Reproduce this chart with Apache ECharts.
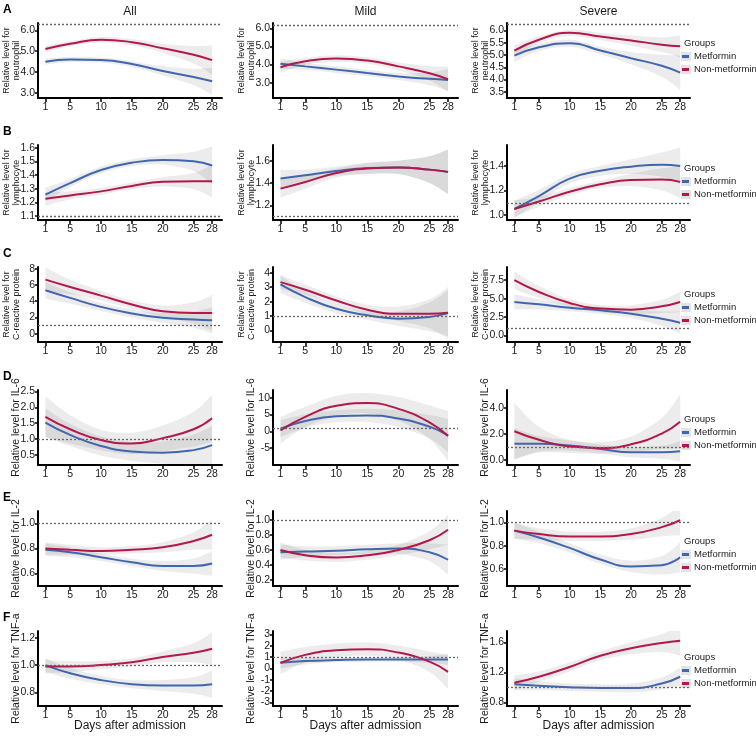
<!DOCTYPE html>
<html>
<head>
<meta charset="utf-8">
<title>Metformin groups</title>
<script src="https://cdn.jsdelivr.net/npm/echarts@6.0.0/dist/echarts.min.js"></script>
<style>
  html, body { margin: 0; padding: 0; background: #fff; }
  #main { width: 756px; height: 743px; }
</style>
</head>
<body>
<div id="main"></div>
<script>
// days after admission (x positions of the fitted curves) and x tick labels
const days = [1, 5, 10, 15, 20, 25, 28];
const xTicks = [1, 5, 10, 15, 20, 25, 28];
const columns = ['All', 'Mild', 'Severe'];
const rowLetters = ['A', 'B', 'C', 'D', 'E', 'F'];
const yNames = [
  'Relative level for\nneutrophil',
  'Relative level for\nlymphocyte',
  'Relative level for\nC-reactive protein',
  'Relative level for IL-6',
  'Relative level for IL-2',
  'Relative level for TNF-a'
];
// dotted reference level per panel
const refLines = [[6.3, 6.2, 6.25], [1.1, 1.1, 1.1], [1, 1, 1], [1, 1, 1], [1, 1, 1], [1, 1, 1]];

// neutrophil (All, Mild, Severe)
const neuMet = [[4.49, 4.6, 4.57, 4.38, 4.05, 3.76, 3.55], [4.05, 3.9, 3.72, 3.53, 3.34, 3.21, 3.15], [4.97, 5.31, 5.48, 5.18, 4.87, 4.56, 4.28]];
const neuNon = [[5.1, 5.35, 5.55, 5.43, 5.14, 4.83, 4.57], [3.85, 4.18, 4.33, 4.22, 3.9, 3.52, 3.19], [5.18, 5.62, 5.9, 5.75, 5.59, 5.42, 5.35]];
const neuMetCI = [[0.14, 0.12, 0.12, 0.14, 0.22, 0.4, 0.65], [0.3, 0.2, 0.18, 0.18, 0.2, 0.35, 0.6], [0.25, 0.15, 0.15, 0.15, 0.25, 0.45, 0.7]];
const neuNonCI = [[0.16, 0.12, 0.14, 0.15, 0.22, 0.42, 0.7], [0.3, 0.2, 0.18, 0.18, 0.22, 0.4, 0.7], [0.22, 0.14, 0.13, 0.15, 0.2, 0.3, 0.45]];
const neuTicks = [['3.0', '4.0', '5.0', '6.0'], ['3.0', '4.0', '5.0', '6.0'], ['3.5', '4.0', '4.5', '5.0', '5.5', '6.0']];
const neuRange = [[2.75, 6.35], [2.15, 6.3], [3.25, 6.3]];

// lymphocyte
const lymMet = [[1.256, 1.34, 1.437, 1.49, 1.51, 1.5, 1.47], [1.44, 1.47, 1.507, 1.534, 1.54, 1.52, 1.5], [1.05, 1.155, 1.296, 1.36, 1.394, 1.41, 1.4]];
const lymNon = [[1.225, 1.25, 1.28, 1.32, 1.35, 1.355, 1.355], [1.35, 1.41, 1.49, 1.53, 1.54, 1.52, 1.5], [1.05, 1.11, 1.19, 1.25, 1.286, 1.29, 1.27]];
const lymMetCI = [[0.05, 0.03, 0.025, 0.025, 0.035, 0.07, 0.14], [0.08, 0.05, 0.04, 0.05, 0.06, 0.12, 0.2], [0.07, 0.05, 0.04, 0.04, 0.06, 0.1, 0.15]];
const lymNonCI = [[0.05, 0.03, 0.025, 0.025, 0.035, 0.06, 0.12], [0.08, 0.06, 0.04, 0.05, 0.06, 0.12, 0.2], [0.07, 0.04, 0.03, 0.03, 0.05, 0.09, 0.13]];
const lymTicks = [['1.1', '1.2', '1.3', '1.4', '1.5', '1.6'], ['1.2', '1.4', '1.6'], ['1.0', '1.2', '1.4']];
const lymRange = [[1.07, 1.62], [1.07, 1.74], [0.96, 1.57]];

// C-reactive protein
const crpMet = [[5.35, 4.41, 3.31, 2.5, 1.96, 1.76, 1.67], [3.19, 2.31, 1.5, 1.05, 0.82, 0.94, 1.2], [4.55, 4.23, 3.77, 3.41, 2.95, 2.27, 1.73]];
const crpNon = [[6.65, 5.75, 4.69, 3.6, 2.78, 2.57, 2.57], [3.35, 2.82, 2.08, 1.44, 1.16, 1.16, 1.23], [7.5, 5.9, 4.41, 3.64, 3.5, 3.95, 4.55]];
const crpMetCI = [[1.0, 0.7, 0.5, 0.5, 0.6, 1.0, 1.6], [0.6, 0.4, 0.3, 0.3, 0.5, 1.0, 1.6], [1.0, 0.7, 0.5, 0.5, 0.6, 1.0, 1.5]];
const crpNonCI = [[1.5, 0.9, 0.6, 0.5, 0.7, 1.3, 2.2], [0.5, 0.35, 0.3, 0.35, 0.5, 1.0, 1.8], [1.2, 0.8, 0.5, 0.5, 0.6, 0.9, 1.4]];
const crpTicks = [['0', '2', '4', '6', '8'], ['0', '1', '2', '3', '4'], ['0.0', '2.5', '5.0', '7.5']];
const crpRange = [[-1, 8.2], [-0.8, 4.4], [-0.9, 9.3]];

// IL-6
const il6Met = [[1.52, 1.13, 0.78, 0.61, 0.57, 0.65, 0.81], [0.8, 3.1, 4.5, 4.75, 3.8, 1.4, -1.2], [1.24, 1.24, 1.1, 0.84, 0.58, 0.58, 0.66]];
const il6Non = [[1.7, 1.31, 0.97, 0.86, 1.03, 1.31, 1.66], [0.3, 4.3, 7.6, 8.4, 6.7, 2.7, -1.4], [2.21, 1.55, 1.03, 0.92, 1.2, 2.03, 2.95]];
const il6MetCI = [[0.45, 0.35, 0.3, 0.3, 0.35, 0.5, 0.6], [2.5, 2, 1.8, 2, 2.5, 3.5, 5], [1.2, 0.6, 0.4, 0.35, 0.4, 0.5, 0.8]];
const il6NonCI = [[0.65, 0.45, 0.32, 0.34, 0.4, 0.55, 0.75], [4, 3, 3, 3, 3.5, 5, 7.5], [2.2, 1.0, 0.5, 0.45, 0.6, 1.2, 2.1]];
const il6Ticks = [['0.5', '1.0', '1.5', '2.0', '2.5'], ['-5', '0', '5', '10'], ['0.0', '2.0', '4.0']];
const il6Range = [[0.18, 2.55], [-10, 12.3], [-0.4, 5.4]];

// IL-2
const il2Met = [[0.79, 0.77, 0.73, 0.69, 0.66, 0.66, 0.68], [0.57, 0.58, 0.59, 0.61, 0.62, 0.57, 0.47], [0.93, 0.87, 0.78, 0.68, 0.62, 0.63, 0.7]];
const il2Non = [[0.8, 0.79, 0.78, 0.79, 0.81, 0.86, 0.91], [0.6, 0.53, 0.5, 0.53, 0.6, 0.73, 0.87], [0.93, 0.9, 0.88, 0.88, 0.9, 0.96, 1.02]];
const il2MetCI = [[0.05, 0.04, 0.03, 0.03, 0.04, 0.06, 0.1], [0.1, 0.07, 0.06, 0.06, 0.07, 0.12, 0.2], [0.07, 0.05, 0.04, 0.04, 0.05, 0.08, 0.13]];
const il2NonCI = [[0.05, 0.04, 0.03, 0.03, 0.04, 0.07, 0.12], [0.1, 0.07, 0.06, 0.06, 0.07, 0.12, 0.2], [0.07, 0.05, 0.04, 0.04, 0.05, 0.08, 0.13]];
const il2Ticks = [['0.6', '0.8', '1.0'], ['0.2', '0.4', '0.6', '0.8', '1.0'], ['0.6', '0.8', '1.0']];
const il2Range = [[0.5, 1.1], [0.12, 1.12], [0.45, 1.1]];

// TNF-a
const tnfMet = [[1.0, 0.94, 0.89, 0.86, 0.85, 0.85, 0.86], [0.5, 0.65, 0.75, 0.8, 0.8, 0.8, 0.8], [1.04, 1.02, 1.0, 0.99, 0.99, 1.05, 1.14]];
const tnfNon = [[0.99, 0.99, 1.0, 1.02, 1.06, 1.09, 1.12], [0.5, 1.2, 1.6, 1.7, 1.4, 0.6, -0.3], [1.06, 1.14, 1.27, 1.42, 1.52, 1.59, 1.62]];
const tnfMetCI = [[0.05, 0.04, 0.03, 0.03, 0.04, 0.06, 0.1], [0.5, 0.3, 0.2, 0.2, 0.2, 0.3, 0.5], [0.08, 0.06, 0.05, 0.05, 0.06, 0.08, 0.12]];
const tnfNonCI = [[0.05, 0.04, 0.03, 0.03, 0.04, 0.07, 0.12], [1, 0.7, 0.6, 0.6, 0.6, 0.9, 1.5], [0.1, 0.07, 0.06, 0.06, 0.08, 0.12, 0.2]];
const tnfTicks = [['0.8', '1.0', '1.2'], ['-3', '-2', '-1', '0', '1', '2', '3'], ['0.8', '1.2', '1.6']];
const tnfRange = [[0.7, 1.25], [-3.3, 3.3], [0.75, 1.75]];

const rowMet = [neuMet, lymMet, crpMet, il6Met, il2Met, tnfMet];
const rowNon = [neuNon, lymNon, crpNon, il6Non, il2Non, tnfNon];
const rowMetCI = [neuMetCI, lymMetCI, crpMetCI, il6MetCI, il2MetCI, tnfMetCI];
const rowNonCI = [neuNonCI, lymNonCI, crpNonCI, il6NonCI, il2NonCI, tnfNonCI];
const rowTicks = [neuTicks, lymTicks, crpTicks, il6Ticks, il2Ticks, tnfTicks];
const rowRange = [neuRange, lymRange, crpRange, il6Range, il2Range, tnfRange];

const blue = '#4266ad';
const red = '#b3174b';
const font = 'Liberation Sans, Arial, sans-serif';

// layout
const gridLeft = [38, 273, 507];
const gridWidth = [184, 185, 183];
const gridTop = [23, 145, 267, 390, 511, 631];
const gridHeight = 75;
const legendTop = [36, 161, 287, 412, 534, 650];

// smooth curve through pixel points (catmull-rom as cubic beziers)
function curve(pts) {
  var s = '';
  for (var i = 0; i < pts.length - 1; i++) {
    var p0 = pts[i - 1] || pts[i], p1 = pts[i], p2 = pts[i + 1], p3 = pts[i + 2] || p2;
    var c1 = [p1[0] + (p2[0] - p0[0]) / 6, p1[1] + (p2[1] - p0[1]) / 6];
    var c2 = [p2[0] - (p3[0] - p1[0]) / 6, p2[1] - (p3[1] - p1[1]) / 6];
    s += ' C' + c1[0] + ' ' + c1[1] + ' ' + c2[0] + ' ' + c2[1] + ' ' + p2[0] + ' ' + p2[1];
  }
  return s;
}

function bandRenderer(vals, ci) {
  return function (params, api) {
    var up = days.map(function (d, i) { return api.coord([d, vals[i] + ci[i]]); });
    var dn = days.map(function (d, i) { return api.coord([d, vals[i] - ci[i]]); }).reverse();
    var path = 'M' + up[0][0] + ' ' + up[0][1] + curve(up) + ' L' + dn[0][0] + ' ' + dn[0][1] + curve(dn) + ' Z';
    return { type: 'path', shape: { pathData: path }, style: { fill: 'rgba(0,0,0,0.075)' } };
  };
}

var grids = [], xAxes = [], yAxes = [], series = [], legends = [], graphics = [];

for (var r = 0; r < 6; r++) {
  for (var c = 0; c < 3; c++) {
    var idx = r * 3 + c;
    var labels = rowTicks[r][c];
    grids.push({ left: gridLeft[c], top: gridTop[r], width: gridWidth[c], height: gridHeight, containLabel: false, outerBoundsMode: 'none' });
    xAxes.push({
      type: 'value', gridIndex: idx, min: -0.2, max: 29.6,
      axisLine: { show: true, onZero: false, lineStyle: { color: '#000', width: 2 } },
      axisTick: { show: true, customValues: xTicks, length: 4, lineStyle: { color: '#000', width: 1.5 } },
      axisLabel: { customValues: xTicks, fontSize: 10.5, color: '#1a1a1a', margin: 4, fontFamily: font },
      splitLine: { show: false }
    });
    yAxes.push({
      type: 'value', gridIndex: idx, min: rowRange[r][c][0], max: rowRange[r][c][1],
      axisLine: { show: true, onZero: false, lineStyle: { color: '#000', width: 2 } },
      axisTick: { show: true, customValues: labels.map(Number), length: 3, lineStyle: { color: '#000', width: 1.5 } },
      axisLabel: {
        customValues: labels.map(Number), fontSize: 10.5, color: '#1a1a1a', margin: 3, fontFamily: font,
        formatter: (function (lb) { return function (v) { var f = lb.find(function (l) { return Number(l) === v; }); return f !== undefined ? f : v; }; })(labels)
      },
      splitLine: { show: false },
      name: yNames[r], nameLocation: 'middle', nameGap: 17, nameMoveOverlap: false,
      nameTextStyle: { fontSize: r < 3 ? 9 : 10.5, lineHeight: 9.5, color: '#1a1a1a', fontFamily: font }
    });

    // confidence bands
    [[rowMet[r][c], rowMetCI[r][c]], [rowNon[r][c], rowNonCI[r][c]]].forEach(function (pair) {
      series.push({
        type: 'custom', xAxisIndex: idx, yAxisIndex: idx, silent: true, clip: true, z: 1,
        renderItem: bandRenderer(pair[0], pair[1]),
        encode: { x: 0, y: 1 },
        data: [[days[0], pair[0][0]]]
      });
    });

    series.push({
      name: 'Metformin', type: 'line', xAxisIndex: idx, yAxisIndex: idx, smooth: true, symbol: 'none', z: 3,
      lineStyle: { color: blue, width: 2 }, itemStyle: { color: blue },
      data: rowMet[r][c].map(function (v, i) { return [days[i], v]; }),
      markLine: {
        silent: true, symbol: ['none', 'none'], label: { show: false },
        lineStyle: { type: [2, 2], color: '#666', width: 1.3 },
        data: [{ yAxis: refLines[r][c] }]
      }
    });
    series.push({
      name: 'Non-metformin', type: 'line', xAxisIndex: idx, yAxisIndex: idx, smooth: true, symbol: 'none', z: 3,
      lineStyle: { color: red, width: 2 }, itemStyle: { color: red },
      data: rowNon[r][c].map(function (v, i) { return [days[i], v]; })
    });
  }

  // legend beside the Severe column
  legends.push({
    left: 682, top: legendTop[r] + 14, orient: 'vertical', itemGap: 0, itemWidth: 7, itemHeight: 3, icon: 'rect',
    data: ['Metformin', 'Non-metformin'], selectedMode: false, padding: 0,
    textStyle: { fontSize: 9.5, color: '#1a1a1a', fontFamily: font, lineHeight: 13 }
  });
  graphics.push({ type: 'text', left: 684, top: legendTop[r] + 2, style: { text: 'Groups', fontSize: 9.5, fill: '#1a1a1a', fontFamily: font } });
  graphics.push({ type: 'rect', left: 681, top: legendTop[r] + 16, shape: { width: 10, height: 9 }, style: { fill: '#e3e3e3' } });
  graphics.push({ type: 'rect', left: 681, top: legendTop[r] + 29, shape: { width: 10, height: 9 }, style: { fill: '#e3e3e3' } });

  graphics.push({ type: 'text', left: 3, top: gridTop[r] - 19, style: { text: rowLetters[r], fontSize: 12, fontWeight: 'bold', fill: '#000', fontFamily: font } });
}

// column titles and x axis titles
columns.forEach(function (t, c) {
  var cx = gridLeft[c] + gridWidth[c] / 2;
  graphics.push({ type: 'text', x: cx, y: 6, style: { text: t, fontSize: 12, fill: '#1a1a1a', fontFamily: font, align: 'center' } });
  graphics.push({ type: 'text', x: cx, y: 720, style: { text: 'Days after admission', fontSize: 12, fill: '#1a1a1a', fontFamily: font, align: 'center' } });
});

var myChart = echarts.init(document.getElementById('main'));
myChart.setOption({
  animation: false,
  backgroundColor: '#fff',
  grid: grids,
  xAxis: xAxes,
  yAxis: yAxes,
  legend: legends,
  graphic: graphics,
  series: series
});
</script>
</body>
</html>
